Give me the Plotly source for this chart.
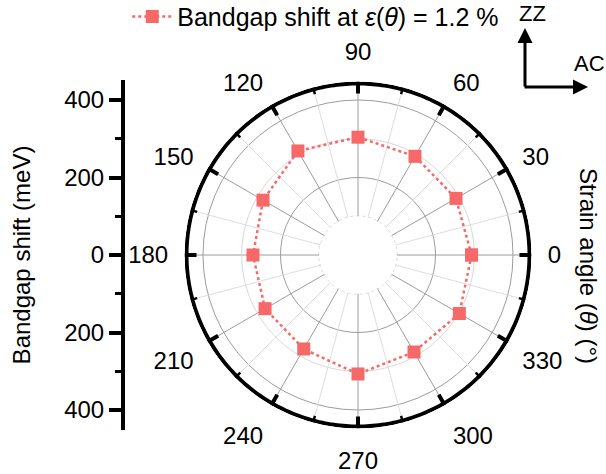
import numpy as np
import plotly.graph_objects as go

# Bandgap shift (meV) versus in-plane strain direction, 1.2 % uniaxial strain
strain_angle = [0, 30, 60, 90, 120, 150, 180, 210, 240, 270, 300, 330]
bandgap_shift = [293, 292, 294, 304, 310, 283, 271, 277, 280, 307, 289, 302]

angle_ticks = [0, 30, 60, 90, 120, 150, 180, 210, 240, 270, 300, 330]
minor_angles = [a + 15 for a in angle_ticks]
radial_ticks = [-400, -200, 0, 200, 400]
radial_tick_text = ["400", "200", "0", "200", "400"]
radial_minor = [-300, -100, 100, 300]

R_MIN, R_MAX = 100, 447.7          # radial range of the polar plot (meV)
HOLE = 38.75 / 173.5              # inner empty disk as fraction of radius
PX_PER_MEV = 0.3875               # shared scale of polar plot and side axis
FONT = "Liberation Sans, Arial, sans-serif"
RED = "#F76868"

W, H = 606, 474
cx, cy, rad = 358, 255, 173.5     # polar centre / radius in pixels

fig = go.Figure()

# light rings (300 meV and inner 100 meV edge)
ring_theta = np.linspace(0, 360, 361)
fig.add_trace(go.Scatterpolar(r=[300] * len(ring_theta), theta=ring_theta, mode="lines",
                              line=dict(color="#d6d6d6", width=1),
                              showlegend=False, hoverinfo="skip"))
fig.add_trace(go.Scatterpolar(r=[R_MIN + 1] * len(ring_theta), theta=ring_theta, mode="lines",
                              line=dict(color="#cfcfcf", width=1, dash="dot"),
                              showlegend=False, hoverinfo="skip"))

# minor spokes
sp_r, sp_t = [], []
for a in minor_angles:
    sp_r += [R_MIN, R_MAX, None]
    sp_t += [a, a, None]
fig.add_trace(go.Scatterpolar(r=sp_r, theta=sp_t, mode="lines",
                              line=dict(color="#dddddd", width=1),
                              showlegend=False, hoverinfo="skip"))

# outer frame circle (kept just inside the plot edge so it is not clipped)
fig.add_trace(go.Scatterpolar(r=[R_MAX - 2 / PX_PER_MEV] * len(ring_theta), theta=ring_theta,
                              mode="lines", line=dict(color="black", width=4),
                              showlegend=False, hoverinfo="skip"))

# inward tick marks on the outer circle
def tick_segments(angles, length_px):
    rr, tt = [], []
    for a in angles:
        rr += [R_MAX - length_px / PX_PER_MEV, R_MAX, None]
        tt += [a, a, None]
    return rr, tt

mr, mt = tick_segments(angle_ticks, 12)
fig.add_trace(go.Scatterpolar(r=mr, theta=mt, mode="lines",
                              line=dict(color="black", width=4),
                              showlegend=False, hoverinfo="skip"))
nr, nt = tick_segments(minor_angles, 7)
fig.add_trace(go.Scatterpolar(r=nr, theta=nt, mode="lines",
                              line=dict(color="black", width=2.5),
                              showlegend=False, hoverinfo="skip"))

# data series (closed loop)
fig.add_trace(go.Scatterpolar(
    r=bandgap_shift + bandgap_shift[:1],
    theta=strain_angle + [strain_angle[0] + 360],
    mode="lines+markers",
    line=dict(color=RED, width=2.5, dash="dot"),
    marker=dict(symbol="square", size=13, color=RED),
    name="Bandgap shift at <i>ε</i>(<i>θ</i>) = 1.2 %",
    showlegend=True, hoverinfo="skip"))

# carrier for the side radial scale
fig.add_trace(go.Scatter(x=[0], y=[0], mode="markers", marker=dict(opacity=0),
                         showlegend=False, hoverinfo="skip", xaxis="x", yaxis="y"))

fig.update_layout(
    width=W, height=H,
    margin=dict(l=0, r=0, t=0, b=0, autoexpand=False),
    paper_bgcolor="white", plot_bgcolor="white",
    font=dict(family=FONT, size=24, color="black"),
    polar=dict(
        domain=dict(x=[(cx - rad) / W, (cx + rad) / W],
                    y=[1 - (cy + rad) / H, 1 - (cy - rad) / H]),
        hole=HOLE,
        bgcolor="white",
        radialaxis=dict(range=[R_MIN, R_MAX], tickvals=[200, 400],
                        showticklabels=False, ticks="", showline=False,
                        gridcolor="#9c9c9c", gridwidth=1),
        angularaxis=dict(rotation=0, direction="counterclockwise",
                         tickvals=angle_ticks, ticktext=[str(a) for a in angle_ticks],
                         ticks="outside", ticklen=11, tickcolor="rgba(0,0,0,0)",
                         showline=False,
                         gridcolor="#9c9c9c", gridwidth=1,
                         tickfont=dict(size=24, family=FONT, color="black")),
    ),
    xaxis=dict(domain=[123 / W, 130 / W], visible=False, range=[0, 1]),
    yaxis=dict(anchor="free", position=123 / W, side="left",
               domain=[1 - (cy + 175) / H, 1 - (cy - 175) / H],
               range=[-175 / PX_PER_MEV, 175 / PX_PER_MEV],
               showline=True, linewidth=4, linecolor="black",
               ticks="outside", ticklen=12, tickwidth=4, tickcolor="black",
               tickvals=radial_ticks, ticktext=radial_tick_text,
               minor=dict(tickvals=radial_minor, ticks="outside", ticklen=6,
                          tickwidth=3, tickcolor="black", showgrid=False),
               showgrid=False, zeroline=False,
               tickfont=dict(size=24, family=FONT),
               title=dict(text="Bandgap shift (meV)", standoff=26,
                          font=dict(size=24, family=FONT))),
    legend=dict(x=0.21, y=1.013, xanchor="left", yanchor="top",
                bgcolor="rgba(0,0,0,0)", font=dict(size=25, family=FONT),
                itemwidth=40),
    annotations=[
        dict(text="Strain angle (<i>θ</i>) (°)", x=589 / W, y=1 - 266 / H,
             xref="paper", yref="paper", showarrow=False, textangle=90,
             xanchor="center", yanchor="middle", font=dict(size=24, family=FONT)),
        dict(text="ZZ", x=532 / W, y=1 - 14 / H, xref="paper", yref="paper",
             xanchor="center", yanchor="middle",
             showarrow=False, font=dict(size=22, family=FONT)),
        dict(text="AC", x=589 / W, y=1 - 63 / H, xref="paper", yref="paper",
             xanchor="center", yanchor="middle",
             showarrow=False, font=dict(size=22, family=FONT)),
        dict(text="", x=525 / W, y=1 - 28 / H, xref="paper", yref="paper",
             showarrow=True, ax=0, ay=60, arrowhead=2, arrowsize=1,
             arrowwidth=3, arrowcolor="black"),
        dict(text="", x=588 / W, y=1 - 87 / H, xref="paper", yref="paper",
             showarrow=True, ax=-65, ay=0, arrowhead=2, arrowsize=1,
             arrowwidth=3, arrowcolor="black"),
    ],
)

fig.write_html("out.html")
